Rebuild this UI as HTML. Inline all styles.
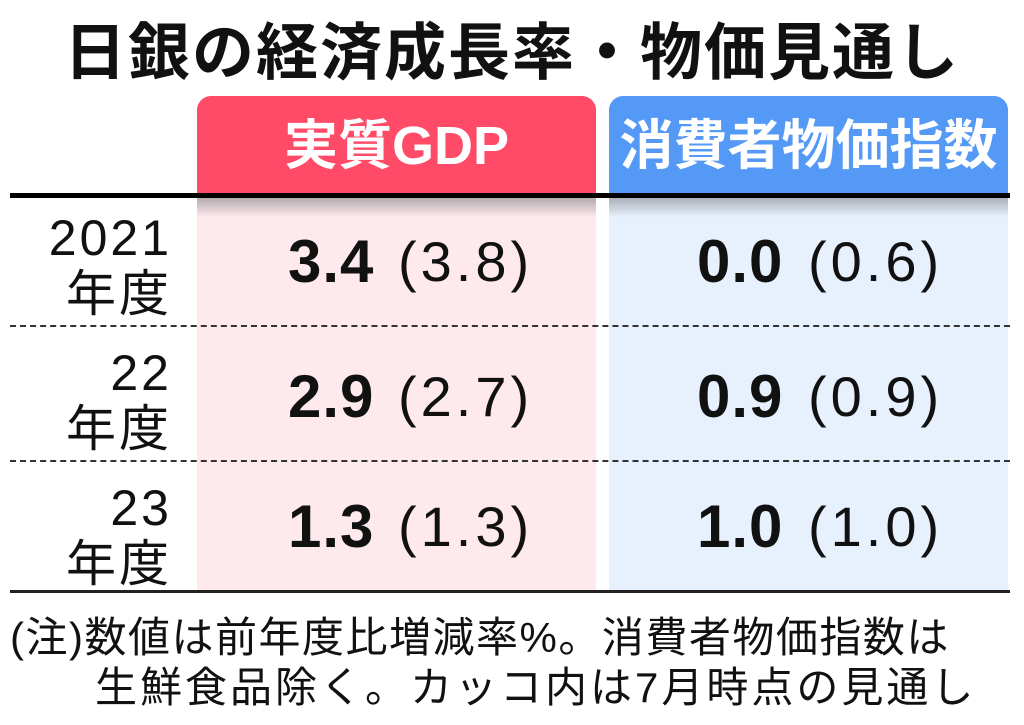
<!DOCTYPE html>
<html><head><meta charset="utf-8"><style>
body{margin:0;width:1024px;height:725px;background:#fff;position:relative;overflow:hidden;font-family:"Liberation Sans","Noto Sans CJK JP",sans-serif;color:#111}
.a{position:absolute}
.title{left:0;width:1024px;top:18px;text-align:center;font-size:62px;font-weight:bold;line-height:72px;letter-spacing:2px}
.hdr{top:96px;height:97px;border-radius:14px 14px 0 0;color:#fff;font-size:54px;font-weight:bold;text-align:center;line-height:100px}
.col{top:197px;height:394px}
.shadow{top:197px;height:20px}
.yr{right:852px;text-align:right;font-size:50px;line-height:56px;letter-spacing:3px}
.n{font-size:60px;line-height:60px;font-weight:bold;white-space:nowrap;letter-spacing:1px}
.p{font-size:56px;line-height:60px;white-space:nowrap;letter-spacing:4px}
.dash{left:10px;width:1000px;height:0;border-top:2px dashed #333}
.note{left:10px;font-size:42px;line-height:48px;white-space:nowrap;letter-spacing:1.5px}
</style></head><body>
<div class="a title">日銀の経済成長率・物価見通し</div>
<div class="a hdr" style="left:197px;width:399px;background:#ff4b68">実質GDP</div>
<div class="a hdr" style="left:609px;width:399px;background:#5499f5">消費者物価指数</div>
<div class="a col" style="left:197px;width:399px;background:#fee9ed"></div>
<div class="a col" style="left:609px;width:399px;background:#e7f0fd"></div>
<div class="a shadow" style="left:197px;width:399px;background:linear-gradient(#b0a8aa,rgba(254,233,237,0))"></div>
<div class="a shadow" style="left:609px;width:399px;background:linear-gradient(#a8adb5,rgba(231,240,253,0))"></div>
<div class="a" style="left:10px;top:193px;width:1000px;height:5px;background:#000"></div>
<div class="a dash" style="top:325px"></div>
<div class="a dash" style="top:460px"></div>
<div class="a" style="left:10px;top:590px;width:1000px;height:3px;background:#222"></div>

<div class="a yr" style="top:210px">2021<br>年度</div>
<div class="a yr" style="top:345px">22<br>年度</div>
<div class="a yr" style="top:480px">23<br>年度</div>

<div class="a n" style="left:288px;top:232px">3.4</div>
<div class="a p" style="left:398px;top:232px">(3.8)</div>
<div class="a n" style="left:288px;top:367px">2.9</div>
<div class="a p" style="left:398px;top:367px">(2.7)</div>
<div class="a n" style="left:288px;top:497px">1.3</div>
<div class="a p" style="left:398px;top:497px">(1.3)</div>
<div class="a n" style="left:697px;top:232px">0.0</div>
<div class="a p" style="left:808px;top:232px">(0.6)</div>
<div class="a n" style="left:697px;top:367px">0.9</div>
<div class="a p" style="left:808px;top:367px">(0.9)</div>
<div class="a n" style="left:697px;top:497px">1.0</div>
<div class="a p" style="left:808px;top:497px">(1.0)</div>

<div class="a note" style="top:614px">(注)数値は前年度比増減率%。消費者物価指数は</div>
<div class="a note" style="top:664px;left:95px;letter-spacing:3px">生鮮食品除く。カッコ内は7月時点の見通し</div>
</body></html>
